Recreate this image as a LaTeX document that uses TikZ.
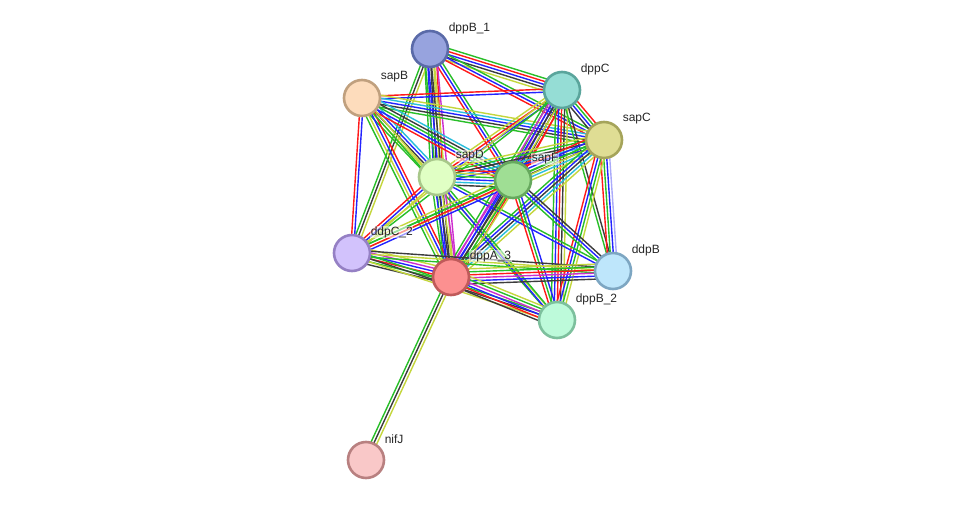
\documentclass[tikz,border=0pt]{standalone}
\usepackage{fontspec}
\setmainfont{Liberation Sans}
\usetikzlibrary{calc}
\pgfdeclarelayer{bg}
\pgfsetlayers{bg,main}
\definecolor{tm}{RGB}{196,214,60}
\definecolor{grn}{RGB}{40,190,40}
\definecolor{rd}{RGB}{255,25,25}
\definecolor{blu}{RGB}{35,35,255}
\definecolor{blk}{RGB}{60,60,60}
\definecolor{cyn}{RGB}{40,190,220}
\definecolor{mag}{RGB}{205,45,205}
\definecolor{lav}{RGB}{170,170,250}
% node colours
\definecolor{fB1}{HTML}{97A3DE}\definecolor{dB1}{HTML}{5A6AA8}
\definecolor{fSB}{HTML}{FDDCBC}\definecolor{dSB}{HTML}{C0A07E}
\definecolor{fDC}{HTML}{95DDD5}\definecolor{dDC}{HTML}{5AA59C}
\definecolor{fSC}{HTML}{DFDD94}\definecolor{dSC}{HTML}{A5A45A}
\definecolor{fSD}{HTML}{E0FFC4}\definecolor{dSD}{HTML}{A8C88A}
\definecolor{fSF}{HTML}{9FDE94}\definecolor{dSF}{HTML}{66A85E}
\definecolor{fC2}{HTML}{D2C2FC}\definecolor{dC2}{HTML}{9580C4}
\definecolor{fA3}{HTML}{FC9090}\definecolor{dA3}{HTML}{C05A5A}
\definecolor{fDB}{HTML}{BEE6FB}\definecolor{dDB}{HTML}{7DA6C2}
\definecolor{fB2}{HTML}{BDFADA}\definecolor{dB2}{HTML}{7DC09D}
\definecolor{fNJ}{HTML}{F9C8C8}\definecolor{dNJ}{HTML}{B88080}
\tikzset{
  prot/.style={circle, line width=2.6pt, minimum size=36pt, inner sep=0pt},
  lbl/.style={anchor=west, inner sep=0.6pt, fill=white, fill opacity=0.55, text opacity=1,
    font=\fontsize{12}{14}\selectfont, text=black!85},
  edge/.style={line width=1.4pt}
}
\newcommand\bundle[3]{%
  \xdef\bn{0}%
  \foreach \c in {#3}{\pgfmathtruncatemacro\t{\bn+1}\xdef\bn{\t}}%
  \foreach \c [count=\i] in {#3}{%
    \pgfmathsetmacro\o{(\i-1-(\bn-1)/2)*3.0}%
    \draw[\c, edge] ($(#1)!\o pt!90:(#2)$) -- ($(#2)!\o pt!-90:(#1)$);
  }%
}
\begin{document}
\begin{tikzpicture}[x=1pt,y=-1pt]
\useasboundingbox (0,0) rectangle (975,506);
% nodes
\node[prot, fill=fB1, draw=dB1] (dppB1) at (430,49) {};
\node[prot, fill=fSB, draw=dSB] (sapB) at (362,98) {};
\node[prot, fill=fDC, draw=dDC] (dppC) at (562,90) {};
\node[prot, fill=fSC, draw=dSC] (sapC) at (604,140) {};
\node[prot, fill=fSD, draw=dSD] (sapD) at (437,177) {};
\node[prot, fill=fSF, draw=dSF] (sapF) at (513,180) {};
\node[prot, fill=fC2, draw=dC2] (ddpC2) at (352,253) {};
\node[prot, fill=fA3, draw=dA3] (dppA3) at (451,277) {};
\node[prot, fill=fDB, draw=dDB] (ddpB) at (613,271) {};
\node[prot, fill=fB2, draw=dB2] (dppB2) at (557,320) {};
\node[prot, fill=fNJ, draw=dNJ] (nifJ) at (366,460) {};
% labels
\node[lbl] (l1) at ($(dppB1)+(18,-21)$) {dppB\_1};
\node[lbl] (l2) at ($(sapB)+(18,-21)$) {sapB};
\node[lbl] (l3) at ($(dppC)+(18,-21)$) {dppC};
\node[lbl] (l4) at ($(sapC)+(18,-21)$) {sapC};
\node[lbl] (l5) at ($(sapD)+(18,-21)$) {sapD};
\node[lbl] (l6) at ($(sapF)+(18,-21)$) {sapF};
\node[lbl] (l7) at ($(ddpC2)+(18,-21)$) {ddpC\_2};
\node[lbl] (l8) at ($(dppA3)+(18,-21)$) {dppA\_3};
\node[lbl] (l9) at ($(ddpB)+(18,-21)$) {ddpB};
\node[lbl] (l10) at ($(dppB2)+(18,-21)$) {dppB\_2};
\node[lbl] (l11) at ($(nifJ)+(18,-21)$) {nifJ};
% edges
\begin{pgfonlayer}{bg}
\fill[white] (0,0) rectangle (975,506);
\bundle{dppB1}{dppC}{tm,blk,blu,rd,grn}
\bundle{dppB1}{sapC}{rd,blu,grn}
\bundle{dppB1}{sapD}{grn,blu,blk,tm,rd}
\bundle{dppB1}{sapF}{rd,blu,grn}
\bundle{dppB1}{ddpC2}{grn,blk,tm}
\bundle{dppB1}{dppA3}{grn,blu,blk,tm,mag}
\bundle{sapB}{dppC}{blu,rd}
\bundle{sapB}{sapC}{grn,blk,blu,cyn,tm}
\bundle{sapB}{sapD}{grn,tm,blk,blu,cyn}
\bundle{sapB}{sapF}{rd,blu,grn,blk,cyn}
\bundle{sapB}{ddpC2}{rd,blu}
\bundle{sapB}{dppA3}{grn,tm,blu,rd}
\bundle{sapB}{dppB2}{grn,tm}
\bundle{dppC}{sapC}{blk,blu,grn,rd}
\bundle{dppC}{sapD}{tm,rd,blu}
\bundle{dppC}{sapF}{grn,mag,blu,blk,rd}
\bundle{dppC}{dppA3}{grn,mag,blu,blk,tm,rd}
\bundle{dppC}{dppB2}{grn,blu,rd,blk,tm}
\bundle{dppC}{ddpB}{grn,blk}
\bundle{dppC}{ddpC2}{tm,grn}
\bundle{sapC}{sapD}{tm,grn,blk,cyn,blu}
\bundle{sapC}{sapF}{rd,blu,grn,blk,cyn,tm}
\bundle{sapC}{ddpC2}{grn,tm}
\bundle{sapC}{dppA3}{grn,blu,blk,cyn,tm}
\bundle{sapC}{ddpB}{rd,grn,blu,lav}
\bundle{sapC}{dppB2}{rd,blu,grn,tm}
\bundle{sapD}{sapF}{blk,cyn,blu,grn,tm,rd}
\bundle{sapD}{ddpC2}{rd,blu,tm}
\bundle{sapD}{dppA3}{grn,blu,blk,tm,mag}
\bundle{sapD}{ddpB}{blu,grn}
\bundle{sapD}{dppB2}{blu,grn}
\bundle{sapF}{ddpC2}{tm,grn,rd,blu}
\bundle{sapF}{dppA3}{mag,blu,blk,grn,tm}
\bundle{sapF}{ddpB}{grn,blu,blk}
\bundle{sapF}{dppB2}{rd,grn,blu}
\bundle{ddpC2}{dppA3}{blk,grn,rd,blu,mag,tm}
\bundle{ddpC2}{ddpB}{grn,tm,blk}
\bundle{ddpC2}{dppB2}{tm,blk,grn}
\bundle{dppA3}{ddpB}{blk,blu,mag,rd,grn,tm}
\bundle{dppA3}{dppB2}{blk,rd,blu,mag,grn,tm}
\bundle{dppA3}{nifJ}{grn,blk,tm}
\end{pgfonlayer}
\end{tikzpicture}
\end{document}
